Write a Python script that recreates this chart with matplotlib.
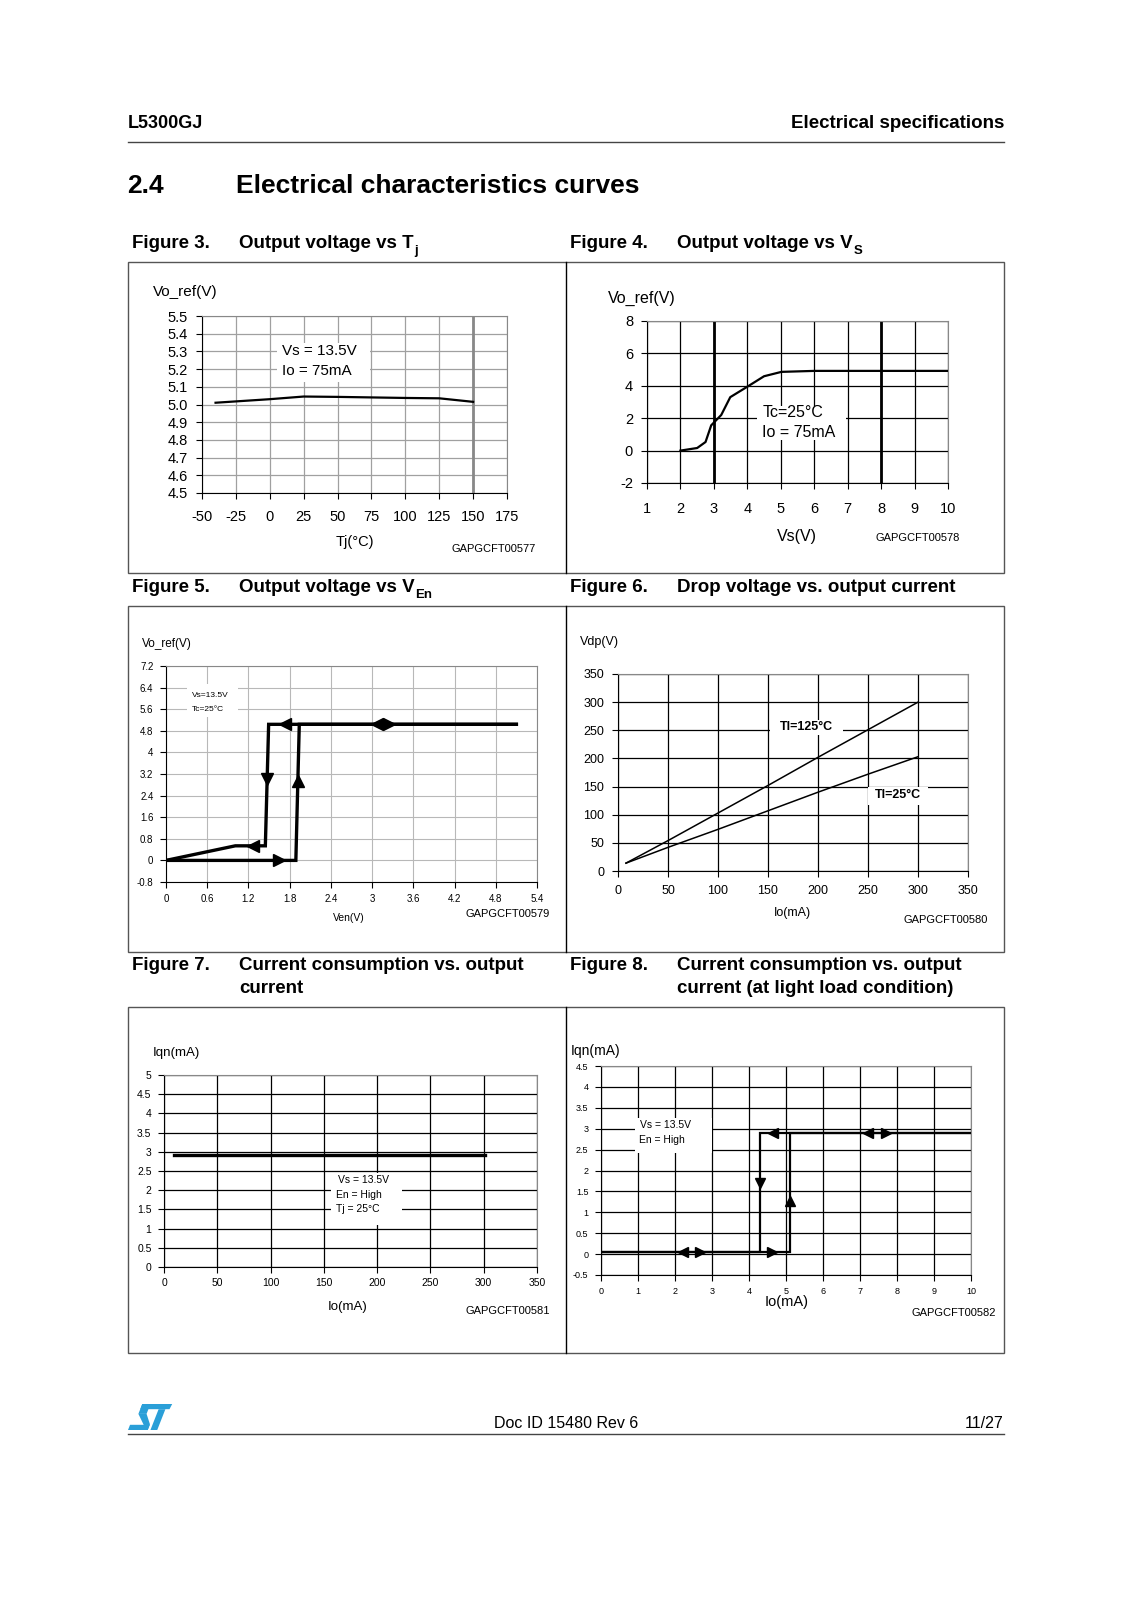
import matplotlib
matplotlib.use("Agg")
import matplotlib.pyplot as plt
from matplotlib.patches import Polygon, Rectangle
from matplotlib.lines import Line2D

plt.rcParams['font.family'] = ['Liberation Sans', 'DejaVu Sans']
plt.rcParams['axes.unicode_minus'] = False

W, H = 1132, 1600

# ---- data ----
# Figure 3: output voltage vs Tj
tj = [-40, 0, 25, 50, 75, 100, 125, 150]
vo_tj = [5.01, 5.03, 5.045, 5.043, 5.04, 5.037, 5.035, 5.015]
tj_ticks = [-50, -25, 0, 25, 50, 75, 100, 125, 150, 175]
vo_tj_ticks = [4.5, 4.6, 4.7, 4.8, 4.9, 5.0, 5.1, 5.2, 5.3, 5.4, 5.5]

# Figure 4: output voltage vs Vs
vs = [2, 2.5, 2.75, 2.92, 3.22, 3.49, 4.02, 4.5, 5.02, 6, 7, 8, 9, 10]
vo_vs = [0, 0.16, 0.53, 1.56, 2.2, 3.3, 3.97, 4.59, 4.86, 4.92, 4.92, 4.92, 4.92, 4.92]
vs_ticks = [1, 2, 3, 4, 5, 6, 7, 8, 9, 10]
vo_vs_ticks = [-2, 0, 2, 4, 6, 8]

# Figure 5: output voltage vs Ven (hysteresis)
ven_down = [5.1, 1.494, 1.446, 1.009, 0]
vo_down = [5.04, 5.04, 0.54, 0.54, 0]
ven_up = [0, 1.89, 1.94, 5.1]
vo_up = [0, 0, 5.04, 5.04]
ven_arrows = [(1.73, 5.04, '<'), (3.07, 5.04, '<'), (3.25, 5.04, '>'),
              (1.47, 3.0, 'v'), (1.92, 2.95, '^'), (1.26, 0.54, '<'), (1.65, 0.0, '>')]
ven_ticks = [0, 0.6, 1.2, 1.8, 2.4, 3, 3.6, 4.2, 4.8, 5.4]
ven_ticklabels = ['0', '0.6', '1.2', '1.8', '2.4', '3', '3.6', '4.2', '4.8', '5.4']
vo_en_ticks = [-0.8, 0, 0.8, 1.6, 2.4, 3.2, 4, 4.8, 5.6, 6.4, 7.2]
vo_en_ticklabels = ['-0.8', '0', '0.8', '1.6', '2.4', '3.2', '4', '4.8', '5.6', '6.4', '7.2']

# Figure 6: drop voltage vs output current
io_drop = [8, 50, 100, 150, 200, 250, 300]
vdp_125 = [14, 54, 103, 152, 202, 251, 300]
vdp_25 = [14, 42, 74, 107, 140, 172, 203]
io_ticks = [0, 50, 100, 150, 200, 250, 300, 350]
vdp_ticks = [0, 50, 100, 150, 200, 250, 300, 350]

# Figure 7: current consumption vs output current
io_q = [9, 301]
iqn = [2.92, 2.92]
iqn_ticks = [0, 0.5, 1, 1.5, 2, 2.5, 3, 3.5, 4, 4.5, 5]
iqn_ticklabels = ['0', '0.5', '1', '1.5', '2', '2.5', '3', '3.5', '4', '4.5', '5']

# Figure 8: current consumption at light load (hysteresis)
io_light_down = [10, 4.3, 4.3, 0]
iqn_down = [2.9, 2.9, 0.06, 0.06]
io_light_up = [0, 5.12, 5.12, 10]
iqn_up = [0.04, 0.04, 2.9, 2.9]
light_arrows = [(2.22, 0.05, '<'), (2.67, 0.05, '>'), (4.62, 0.05, '>'),
                (4.64, 2.9, '<'), (7.22, 2.9, '<'), (7.69, 2.9, '>'),
                (4.3, 1.69, 'v'), (5.12, 1.27, '^')]
io_light_ticks = [0, 1, 2, 3, 4, 5, 6, 7, 8, 9, 10]
iqn_light_ticks = [-0.5, 0, 0.5, 1, 1.5, 2, 2.5, 3, 3.5, 4, 4.5]
iqn_light_ticklabels = ['-0.5', '0', '0.5', '1', '1.5', '2', '2.5', '3', '3.5', '4', '4.5']


def fx(x):
    return x / W


def fy(y):
    return 1 - y / H


def ftext(x, y, s, **kw):
    kw.setdefault('va', 'center')
    return fig.text(fx(x), fy(y), s, **kw)


def fline(x0, y0, x1, y1, **kw):
    fig.add_artist(Line2D([fx(x0), fx(x1)], [fy(y0), fy(y1)], transform=fig.transFigure, **kw))


def make_ax(x0, y0, x1, y1):
    a = fig.add_axes([fx(x0), fy(y1), (x1 - x0) / W, (y1 - y0) / H])
    a.set_facecolor('none')
    for s in ['top', 'right']:
        a.spines[s].set_color('#888888')
    for s in ['left', 'bottom']:
        a.spines[s].set_color('black')
    a.tick_params(direction='out', length=4, width=0.8, colors='black')
    a.set_axisbelow(True)
    return a


def white_box(a, x0, y0, x1, y1):
    a.add_patch(Rectangle((x0, y0), x1 - x0, y1 - y0, facecolor='white', edgecolor='none', zorder=1.5))


fig = plt.figure(figsize=(W / 100, H / 100), dpi=100)

# ---- page header / footer ----
ftext(128, 124, 'L5300GJ', fontsize=13, fontweight='bold')
ftext(1004, 124, 'Electrical specifications', fontsize=13.5, fontweight='bold', ha='right')
fline(128, 142, 1004, 142, color='#444444', lw=1)
ftext(127, 186, '2.4', fontsize=19, fontweight='bold')
ftext(236, 186, 'Electrical characteristics curves', fontsize=19, fontweight='bold')

fline(128, 1434, 1004, 1434, color='#444444', lw=1)
ftext(566, 1423, 'Doc ID 15480 Rev 6', fontsize=11.5, ha='center')
ftext(1004, 1423, '11/27', fontsize=11.5, ha='right')

# ST logo, drawn as sheared blocks
lx, ly, lw_, lh = 128, 1430, 34, 26
shear = 0.3


def logo_poly(pts):
    xy = [(fx(lx + (px + shear * py) * lw_), fy(ly - py * lh)) for px, py in pts]
    fig.add_artist(Polygon(xy, closed=True, transform=fig.transFigure, facecolor='#2a9fd8', edgecolor='none'))


logo_poly([(0.12, 1.0), (1.0, 1.0), (0.98, 0.8), (0.12, 0.8)])
logo_poly([(0.12, 1.0), (0.36, 1.0), (0.36, 0.62), (0.12, 0.62)])
logo_poly([(0.12, 0.62), (0.36, 0.62), (0.58, 0.22), (0.58, 0.0), (0.40, 0.0), (0.40, 0.2)])
logo_poly([(0.0, 0.0), (0.58, 0.0), (0.58, 0.2), (0.0, 0.2)])
logo_poly([(0.66, 0.8), (0.86, 0.8), (0.86, 0.0), (0.66, 0.0)])

# ---- frames around the figure pairs ----
for top, bot in [(262, 573), (606, 952), (1007, 1353)]:
    fig.add_artist(Rectangle((fx(128), fy(bot)), (1004 - 128) / W, (bot - top) / H,
                             transform=fig.transFigure, facecolor='none', edgecolor='#555555', lw=1))
    fline(566, top, 566, bot, color='black', lw=1)


# ---- captions ----
def caption(x, y, num, title, sub=None):
    ftext(x, y, num, fontsize=13.5, fontweight='bold')
    t = None
    for i, ln in enumerate(title.split('\n')):
        t = ftext(x + 107, y + i * 23, ln, fontsize=13.5, fontweight='bold')
    if sub:
        fig.add_artist(plt.Annotation(sub, xy=(1, 0), xycoords=t, xytext=(0.5, -3),
                                      textcoords='offset points', fontsize=9.5,
                                      fontweight='bold', va='bottom', ha='left'))


caption(132, 244, 'Figure 3.', 'Output voltage vs T', 'j')
caption(570, 244, 'Figure 4.', 'Output voltage vs V', 'S')
caption(132, 588, 'Figure 5.', 'Output voltage vs V', 'En')
caption(570, 588, 'Figure 6.', 'Drop voltage vs. output current')
caption(132, 965, 'Figure 7.', 'Current consumption vs. output\ncurrent')
caption(570, 965, 'Figure 8.', 'Current consumption vs. output\ncurrent (at light load condition)')

# ---- Figure 3 ----
ax = make_ax(202, 316, 507, 493)
ax.set_xlim(-50, 175)
ax.set_ylim(4.5, 5.5)
ax.set_xticks(tj_ticks)
ax.set_yticks(vo_tj_ticks)
ax.set_yticklabels(['%.1f' % v for v in vo_tj_ticks])
ax.tick_params(labelsize=10.5, pad=6)
ax.tick_params(axis='x', pad=8)
ax.grid(True, color='#a0a0a0', lw=0.9)
ax.axvline(150, color='#888888', lw=2, zorder=1.2)
white_box(ax, 5, 5.125, 74, 5.345)
ax.text(9, 5.3, 'Vs = 13.5V', fontsize=11, va='center', zorder=3)
ax.text(9, 5.19, 'Io = 75mA', fontsize=11, va='center', zorder=3)
ax.plot(tj, vo_tj, color='black', lw=1.6, zorder=3)
ftext(153, 292, 'Vo_ref(V)', fontsize=11)
ftext(355, 542, 'Tj(°C)', fontsize=10.5, ha='center')
ftext(452, 549, 'GAPGCFT00577', fontsize=8)

# ---- Figure 4 ----
ax = make_ax(647, 321, 948, 483)
ax.set_xlim(1, 10)
ax.set_ylim(-2, 8)
ax.set_xticks(vs_ticks)
ax.set_yticks(vo_vs_ticks)
ax.tick_params(labelsize=10.5, pad=6)
ax.tick_params(axis='x', pad=10)
ax.grid(True, color='black', lw=0.9)
ax.axvline(3, color='black', lw=2, zorder=1.2)
ax.axvline(8, color='black', lw=2, zorder=1.2)
white_box(ax, 4.3, 0.65, 6.95, 2.75)
ax.text(4.45, 2.38, 'Tc=25°C', fontsize=11.5, va='center', zorder=3)
ax.text(4.45, 1.1, 'Io = 75mA', fontsize=11.5, va='center', zorder=3)
ax.plot(vs, vo_vs, color='black', lw=1.6, zorder=3)
ftext(608, 298, 'Vo_ref(V)', fontsize=11.5)
ftext(797, 537, 'Vs(V)', fontsize=11.5, ha='center')
ftext(875, 538, 'GAPGCFT00578', fontsize=8)

# ---- Figure 5 ----
ax = make_ax(166, 666, 537, 882)
ax.set_xlim(0, 5.4)
ax.set_ylim(-0.8, 7.2)
ax.set_xticks(ven_ticks)
ax.set_xticklabels(ven_ticklabels)
ax.set_yticks(vo_en_ticks)
ax.set_yticklabels(vo_en_ticklabels)
ax.tick_params(labelsize=7, pad=5)
ax.grid(True, color='#b8b8b8', lw=0.8)
white_box(ax, 0.3, 5.3, 1.05, 6.55)
ax.text(0.38, 6.1, 'Vs=13.5V', fontsize=6, va='center', zorder=3)
ax.text(0.38, 5.6, 'Tc=25°C', fontsize=6, va='center', zorder=3)
ax.plot(ven_down, vo_down, color='black', lw=2.4, zorder=3, solid_joinstyle='miter')
ax.plot(ven_up, vo_up, color='black', lw=2.4, zorder=3, solid_joinstyle='miter')
for x, y, m in ven_arrows:
    ax.plot([x], [y], marker=m, color='black', markersize=8, zorder=4)
ftext(142, 644, 'Vo_ref(V)', fontsize=8.5)
ftext(349, 918, 'Ven(V)', fontsize=7.5, ha='center')
ftext(465, 914, 'GAPGCFT00579', fontsize=8)

# ---- Figure 6 ----
ax = make_ax(618, 674, 968, 871)
ax.set_xlim(0, 350)
ax.set_ylim(0, 350)
ax.set_xticks(io_ticks)
ax.set_yticks(vdp_ticks)
ax.tick_params(labelsize=9, pad=6)
ax.grid(True, color='black', lw=0.9)
white_box(ax, 152, 242, 225, 268)
white_box(ax, 250, 118, 310, 150)
ax.text(188, 255, 'Tl=125°C', fontsize=9, fontweight='bold', ha='center', va='center', zorder=3)
ax.text(280, 135, 'Tl=25°C', fontsize=9, fontweight='bold', ha='center', va='center', zorder=3)
ax.plot(io_drop, vdp_125, color='black', lw=1.1, zorder=3)
ax.plot(io_drop, vdp_25, color='black', lw=1.1, zorder=3)
ftext(580, 642, 'Vdp(V)', fontsize=9)
ftext(792, 913, 'Io(mA)', fontsize=9, ha='center')
ftext(903, 920, 'GAPGCFT00580', fontsize=8)

# ---- Figure 7 ----
ax = make_ax(164, 1075, 537, 1267)
ax.set_xlim(0, 350)
ax.set_ylim(0, 5)
ax.set_xticks(io_ticks)
ax.set_yticks(iqn_ticks)
ax.set_yticklabels(iqn_ticklabels)
ax.tick_params(labelsize=7.5, pad=5)
ax.tick_params(axis='x', pad=4)
ax.grid(True, color='black', lw=0.9)
white_box(ax, 157, 1.1, 223, 2.45)
ax.text(163, 2.27, 'Vs = 13.5V', fontsize=7.5, va='center', zorder=3)
ax.text(161, 1.88, 'En = High', fontsize=7.5, va='center', zorder=3)
ax.text(161, 1.5, 'Tj = 25°C', fontsize=7.5, va='center', zorder=3)
ax.plot(io_q, iqn, color='black', lw=2.4, zorder=3)
ftext(153, 1053, 'Iqn(mA)', fontsize=9.5)
ftext(348, 1307, 'Io(mA)', fontsize=9.5, ha='center')
ftext(466, 1311, 'GAPGCFT00581', fontsize=8)

# ---- Figure 8 ----
ax = make_ax(601, 1066, 971, 1275)
ax.set_xlim(0, 10)
ax.set_ylim(-0.5, 4.5)
ax.set_xticks(io_light_ticks)
ax.set_yticks(iqn_light_ticks)
ax.set_yticklabels(iqn_light_ticklabels)
ax.tick_params(labelsize=6.5, pad=5)
ax.grid(True, color='black', lw=0.9)
white_box(ax, 0.93, 2.41, 3.0, 3.25)
ax.text(1.05, 3.09, 'Vs = 13.5V', fontsize=7.5, va='center', zorder=3)
ax.text(1.02, 2.73, 'En = High', fontsize=7.5, va='center', zorder=3)
ax.plot(io_light_down, iqn_down, color='black', lw=1.6, zorder=3, solid_joinstyle='miter')
ax.plot(io_light_up, iqn_up, color='black', lw=1.6, zorder=3, solid_joinstyle='miter')
for x, y, m in light_arrows:
    ax.plot([x], [y], marker=m, color='black', markersize=6.5, zorder=4)
ftext(571, 1051, 'Iqn(mA)', fontsize=10)
ftext(787, 1302, 'Io(mA)', fontsize=10.5, ha='center')
ftext(912, 1313, 'GAPGCFT00582', fontsize=8)

fig.savefig('out.png', dpi=100)
